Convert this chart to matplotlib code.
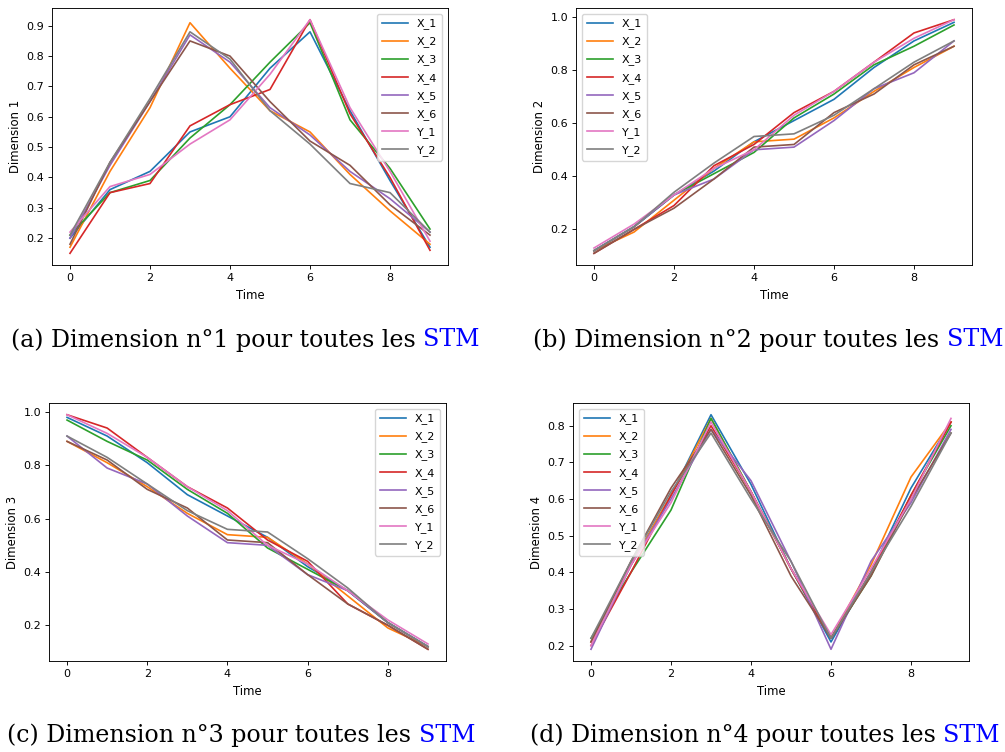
import matplotlib

matplotlib.use("Agg")
import matplotlib.pyplot as plt

TIME = list(range(10))
SERIES = ["X_1", "X_2", "X_3", "X_4", "X_5", "X_6", "Y_1", "Y_2"]

# dimension 1: one group peaks at t=3, the other at t=6
DIM1 = {
    "X_1": [0.20, 0.36, 0.42, 0.55, 0.60, 0.76, 0.88, 0.62, 0.39, 0.17],
    "X_2": [0.17, 0.42, 0.63, 0.91, 0.76, 0.62, 0.55, 0.41, 0.29, 0.18],
    "X_3": [0.21, 0.35, 0.39, 0.53, 0.64, 0.78, 0.91, 0.59, 0.43, 0.23],
    "X_4": [0.15, 0.35, 0.38, 0.57, 0.64, 0.69, 0.92, 0.61, 0.40, 0.16],
    "X_5": [0.20, 0.44, 0.65, 0.87, 0.78, 0.63, 0.54, 0.42, 0.33, 0.22],
    "X_6": [0.18, 0.45, 0.65, 0.85, 0.80, 0.65, 0.52, 0.44, 0.31, 0.21],
    "Y_1": [0.22, 0.37, 0.41, 0.51, 0.59, 0.74, 0.92, 0.63, 0.42, 0.19],
    "Y_2": [0.21, 0.45, 0.66, 0.88, 0.79, 0.62, 0.51, 0.38, 0.35, 0.22],
}

DIM2 = {
    "X_1": [0.12, 0.21, 0.33, 0.42, 0.53, 0.61, 0.69, 0.81, 0.91, 0.98],
    "X_2": [0.12, 0.19, 0.31, 0.43, 0.53, 0.54, 0.62, 0.72, 0.81, 0.89],
    "X_3": [0.12, 0.21, 0.33, 0.41, 0.49, 0.62, 0.71, 0.82, 0.89, 0.97],
    "X_4": [0.11, 0.20, 0.29, 0.44, 0.52, 0.64, 0.72, 0.83, 0.94, 0.99],
    "X_5": [0.12, 0.21, 0.33, 0.39, 0.50, 0.51, 0.61, 0.73, 0.79, 0.91],
    "X_6": [0.11, 0.20, 0.28, 0.39, 0.51, 0.52, 0.64, 0.71, 0.82, 0.89],
    "Y_1": [0.13, 0.22, 0.33, 0.43, 0.50, 0.63, 0.72, 0.83, 0.92, 0.99],
    "Y_2": [0.12, 0.21, 0.34, 0.45, 0.55, 0.56, 0.63, 0.73, 0.83, 0.91],
}

DIM3 = {
    "X_1": [0.98, 0.91, 0.81, 0.69, 0.61, 0.53, 0.42, 0.33, 0.21, 0.12],
    "X_2": [0.89, 0.81, 0.72, 0.62, 0.54, 0.53, 0.43, 0.31, 0.19, 0.12],
    "X_3": [0.97, 0.89, 0.82, 0.71, 0.62, 0.49, 0.41, 0.33, 0.21, 0.12],
    "X_4": [0.99, 0.94, 0.83, 0.72, 0.64, 0.52, 0.44, 0.28, 0.20, 0.11],
    "X_5": [0.91, 0.79, 0.73, 0.61, 0.51, 0.50, 0.39, 0.33, 0.21, 0.12],
    "X_6": [0.89, 0.82, 0.71, 0.64, 0.52, 0.51, 0.39, 0.28, 0.20, 0.11],
    "Y_1": [0.99, 0.92, 0.83, 0.72, 0.63, 0.50, 0.43, 0.33, 0.22, 0.13],
    "Y_2": [0.91, 0.83, 0.73, 0.63, 0.56, 0.55, 0.45, 0.34, 0.21, 0.12],
}

DIM4 = {
    "X_1": [0.21, 0.42, 0.61, 0.83, 0.64, 0.41, 0.21, 0.40, 0.63, 0.81],
    "X_2": [0.21, 0.42, 0.61, 0.82, 0.62, 0.41, 0.22, 0.42, 0.66, 0.81],
    "X_3": [0.22, 0.40, 0.57, 0.82, 0.62, 0.41, 0.22, 0.39, 0.61, 0.80],
    "X_4": [0.20, 0.40, 0.61, 0.80, 0.62, 0.41, 0.22, 0.40, 0.61, 0.81],
    "X_5": [0.19, 0.42, 0.60, 0.79, 0.65, 0.43, 0.19, 0.43, 0.59, 0.79],
    "X_6": [0.21, 0.43, 0.63, 0.79, 0.61, 0.39, 0.22, 0.39, 0.60, 0.78],
    "Y_1": [0.20, 0.42, 0.59, 0.81, 0.62, 0.41, 0.23, 0.41, 0.60, 0.82],
    "Y_2": [0.22, 0.43, 0.62, 0.78, 0.60, 0.43, 0.22, 0.40, 0.58, 0.78],
}

CAPTIONS = [
    "(a) Dimension n°1 pour toutes les ",
    "(b) Dimension n°2 pour toutes les ",
    "(c) Dimension n°3 pour toutes les ",
    "(d) Dimension n°4 pour toutes les ",
]
LINK_WORD = "STM"

plt.rcParams["font.size"] = 8
plt.rcParams["axes.linewidth"] = 0.65
plt.rcParams["lines.linewidth"] = 1.2

W, H = 1005, 752
fig = plt.figure(figsize=(W / 100, H / 100), dpi=100)


def px_axes(left, top, right, bottom):
    return fig.add_axes([left / W, 1 - bottom / H, (right - left) / W, (bottom - top) / H])


panels = [
    (DIM1, "Dimension 1", (52, 8, 448, 265), "upper right"),
    (DIM2, "Dimension 2", (576, 8, 972, 265), "upper left"),
    (DIM3, "Dimension 3", (49, 403, 446, 661), "upper right"),
    (DIM4, "Dimension 4", (573, 403, 969, 661), "upper left"),
]

for data, ylabel, box, loc in panels:
    ax = px_axes(*box)
    for name in SERIES:
        ax.plot(TIME, data[name], label=name)
    ax.set_xlabel("Time", fontsize=8.4, labelpad=4.5)
    ax.set_ylabel(ylabel, fontsize=8.4, labelpad=3)
    ax.tick_params(labelsize=8, width=0.65, length=3, pad=2.5)
    ax.set_xticks([0, 2, 4, 6, 8])
    ax.legend(loc=loc, fontsize=8, handlelength=2.4, borderpad=0.45, labelspacing=0.64)

# captions below each panel, the last word in link blue
caption_pos = [(245, 340), (768, 340), (241, 735), (765, 735)]
CAPTION_SIZE = 17.1
fig.canvas.draw()
renderer = fig.canvas.get_renderer()
for text, (cx, cy) in zip(CAPTIONS, caption_pos):
    full = fig.text(0, 0, text + LINK_WORD, family="DejaVu Serif", fontsize=CAPTION_SIZE)
    width = full.get_window_extent(renderer).width
    full.remove()
    x0 = cx - width / 2
    head = fig.text(x0 / W, 1 - cy / H, text, family="DejaVu Serif", fontsize=CAPTION_SIZE,
                    va="center", ha="left")
    hw = head.get_window_extent(renderer).width
    fig.text((x0 + hw) / W, 1 - cy / H, LINK_WORD, family="DejaVu Serif",
             fontsize=CAPTION_SIZE, va="center", ha="left", color="#0000ff")

fig.savefig("out.png", dpi=100)
